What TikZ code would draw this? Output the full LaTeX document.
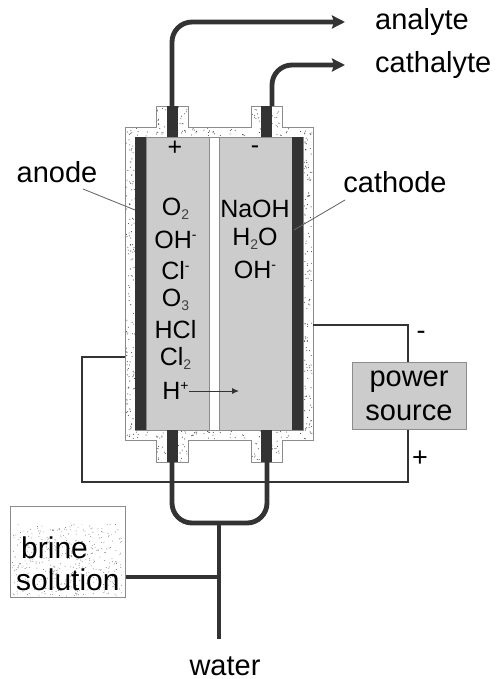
\documentclass[tikz,border=0pt]{standalone}
\usepackage{fontspec}
\setmainfont{Liberation Sans}
\usetikzlibrary{arrows.meta}
\definecolor{dk}{rgb}{.2,.2,.2}
\definecolor{lg}{rgb}{.8,.8,.8}
\definecolor{mg}{rgb}{.55,.55,.55}
\tikzstyle{pipe}=[draw=dk, line width=1.7mm, rounded corners=20pt]
\tikzstyle{wire}=[draw=dk, line width=.5mm]
\tikzstyle{lead}=[draw=black!60, line width=.3mm]
\tikzstyle{part}=[draw=mg, line width=.35mm]
\tikzstyle{lab}=[inner sep=0pt, font=\fontsize{29}{34}\selectfont]
\tikzstyle{chem}=[inner sep=0pt, font=\fontsize{25}{28}\selectfont]
\newcommand{\lowidx}[1]{\raisebox{-4pt}{\fontsize{14}{14}\selectfont\color{black!75}#1}}
\newcommand{\upidx}[1]{\raisebox{9pt}{\fontsize{14}{14}\selectfont #1}}
\begin{document}
\begin{tikzpicture}[x=1pt, y=-1pt]

      \useasboundingbox (0,0) rectangle (495,679);

      % casing
      \draw[part, fill=white] (125,127) -- (156,127) -- (156,106) -- (188,106) -- (188,127)
        -- (251,127) -- (251,106) -- (282,106) -- (282,127) -- (313,127) -- (313,440)
        -- (282,440) -- (282,462) -- (251,462) -- (251,440) -- (188,440) -- (188,462)
        -- (156,462) -- (156,440) -- (125,440) -- cycle;

      \pgfmathsetseed{7}
      \foreach \i in {1,...,130} {
        \pgfmathsetmacro{\px}{126+rnd*9}
        \pgfmathsetmacro{\py}{128+rnd*311}
        \fill[black!70] (\px,\py) circle (.55pt);
        \pgfmathsetmacro{\px}{304+rnd*8}
        \pgfmathsetmacro{\py}{128+rnd*311}
        \fill[black!70] (\px,\py) circle (.55pt);
      }
      \foreach \i in {1,...,60} {
        \pgfmathsetmacro{\px}{126+rnd*186}
        \pgfmathsetmacro{\py}{128+rnd*8}
        \fill[black!70] (\px,\py) circle (.55pt);
        \pgfmathsetmacro{\py}{431+rnd*8}
        \fill[black!70] (\px,\py) circle (.55pt);
      }
      % nozzles
      \foreach \x in {157,178,252,272} {
        \foreach \i in {1,...,9} {
          \pgfmathsetmacro{\px}{\x+rnd*9}
          \pgfmathsetmacro{\py}{107+rnd*20}
          \fill[black!70] (\px,\py) circle (.55pt);
          \pgfmathsetmacro{\py}{441+rnd*20}
          \fill[black!70] (\px,\py) circle (.55pt);
        }
      }

      % chamber
      \draw[part, fill=white] (135,137) rectangle (303,430);
      \draw[part, fill=lg] (146,137) rectangle (209,430);
      \draw[part, fill=lg] (219,137) rectangle (292,430);
      \fill[dk] (135,137) rectangle (146,430);
      \fill[dk] (292,137) rectangle (303,430);

      % plugs
      \foreach \x in {167,261} {
        \fill[dk] (\x,106) rectangle (\x+11,137);
        \fill[dk] (\x,430) rectangle (\x+11,462);
      }

      \coordinate (ltop) at (172,106);
      \coordinate (rtop) at (272,106);
      \coordinate (analyteend) at (345,22);
      \coordinate (cathalyteend) at (345,65);
      \coordinate (lbot) at (172,462);
      \coordinate (rbot) at (267,462);
      \coordinate (join) at (219,523);
      \coordinate (waterend) at (219,639);
      \coordinate (brinejoin) at (219,577);
      \coordinate (anodestart) at (83,189);
      \coordinate (anodewall) at (135,210);
      \coordinate (cathodestart) at (345,200);
      \coordinate (cathodewall) at (294,230);
      \coordinate (lwall) at (125,357);
      \coordinate (rwall) at (313,325);
      \coordinate (hstart) at (189,391);
      \coordinate (hend) at (239,391);

      % outlet pipes
      \draw[pipe, -{Stealth[length=13pt, width=13pt, inset=2pt]}] (ltop) -- (172,22) -- (analyteend);
      \draw[pipe, -{Stealth[length=13pt, width=13pt, inset=2pt]}] (rtop) -- (272,65) -- (cathalyteend);

      \node[lab, anchor=west] (analyte) at (375,22) {analyte};
      \node[lab, anchor=west] (cathalyte) at (375,65) {cathalyte};
      \node[lab] (anode) at (57,172) {anode};
      \node[lab] (cathode) at (395,182) {cathode};
      \node[lab] (water) at (225,666) {water};

      \draw[lead] (anodestart) -- (anodewall);
      \draw[lead] (cathodestart) -- (cathodewall);

      % chamber contents
      \node[chem] (plus) at (175,148) {+};
      \node[chem] (minus) at (255,150) {-};

      \foreach \n/\t/\y in {o2/O\lowidx{2}/209, oh/OH\upidx{-}/240,
                            cl/Cl\upidx{-}/271, o3/O\lowidx{3}/300,
                            hcl/HCl/330, cl2/Cl\lowidx{2}/358, h/H\upidx{+}/391}
        \node[chem] (\n) at (175.5,\y) {\t};

      \foreach \n/\t/\y in {naoh/NaOH/209, hho/H\lowidx{2}O/239, ohr/OH\upidx{-}/270}
        \node[chem] (\n) at (255,\y) {\t};

      \draw[wire, line width=.3mm, -{Latex[length=7pt, width=6pt]}] (hstart) -- (hend);

      % bottom pipes
      \draw[pipe] (lbot) -- (172,523) -- (267,523) -- (rbot);
      \draw[pipe, rounded corners=0pt, line width=1.5mm] (join) -- (waterend);

      % brine
      \node[part, fill=white, minimum width=115pt, minimum height=91pt, inner sep=0pt] (brinebox) at (67.5,551.5) {};
      \begin{scope}
      \clip (11,524) rectangle (124,596);
      \foreach \i in {1,...,420} {
        \pgfmathsetmacro{\px}{12+rnd*110}
        \pgfmathsetmacro{\py}{524+rnd*72}
        \fill[black!55] (\px,\py) circle (.45pt);
      }
      \end{scope}
      \node[lab, font=\fontsize{30}{34}\selectfont, anchor=west] (brinetext) at (21,548) {brine};
      \node[lab, font=\fontsize{30}{34}\selectfont, anchor=west] (solutiontext) at (16,580) {solution};
      \draw[pipe, rounded corners=0pt, line width=1.5mm] (brinebox.east |- brinejoin) -- (brinejoin);

      % power source
      \node[part, fill=lg, lab, align=center, minimum width=114pt, minimum height=67pt] (power) at (409,395.5) {power\\source};

      \draw[wire] (rwall) -- (408,325) -- (power.north -| 408,0);
      \draw[wire] (lwall) -- (82,357) -- (82,482) -- (408,482) -- (power.south -| 408,0);

      \node[chem, font=\fontsize{27}{30}\selectfont] (neg) at (421,335) {-};
      \node[chem, font=\fontsize{27}{30}\selectfont] (pos) at (420,459) {+};

    \end{tikzpicture}
\end{document}
